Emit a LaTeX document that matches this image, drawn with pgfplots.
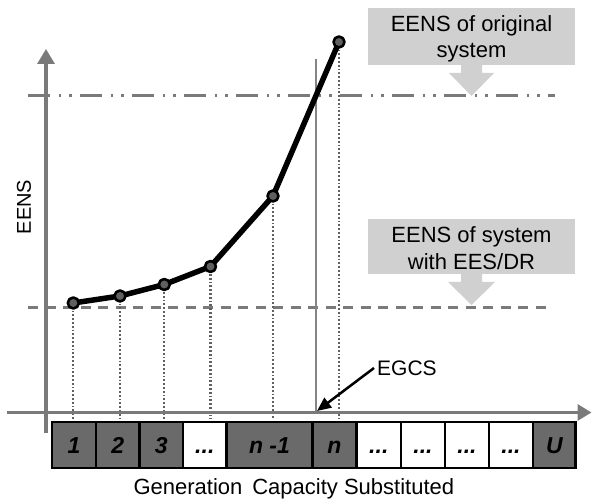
\documentclass[border=0pt]{standalone}
\usepackage{pgfplots}
\pgfplotsset{compat=1.18}
\usepackage{fontspec}
\setmainfont{Liberation Sans}
\usetikzlibrary{arrows.meta}
\definecolor{axgray}{HTML}{7A7A7A}
\definecolor{cellgray}{HTML}{6A6A6A}
\definecolor{boxgray}{HTML}{D0D0D0}
\definecolor{dotgray}{HTML}{606060}
\definecolor{vgray}{HTML}{858585}
\begin{document}
\begin{tikzpicture}
\useasboundingbox (0,0) rectangle (592pt,502pt);
\begin{axis}[scale only axis, width=592pt, height=502pt,
  xmin=0, xmax=592, ymin=0, ymax=502, hide axis, clip=false]
% callout boxes
\fill[boxgray] (368,437) rectangle (575,494);
\fill[boxgray] (461,437.5) -- (461,429) -- (449,429) -- (471.5,406) -- (494,429) -- (482,429) -- (482,437.5) -- cycle;
\fill[boxgray] (368,228) rectangle (575,283);
\fill[boxgray] (461,228.5) -- (461,220) -- (448,220) -- (471.5,197) -- (495,220) -- (482,220) -- (482,228.5) -- cycle;
\node[anchor=base, font=\fontsize{22}{26}\selectfont] at (471.5,470.3) {EENS of original};
\node[anchor=base, font=\fontsize{22}{26}\selectfont] at (471.5,444) {system};
\node[anchor=base, font=\fontsize{22}{26}\selectfont] at (471.5,259) {EENS of system};
\node[anchor=base, font=\fontsize{22}{26}\selectfont] at (471.5,232) {with EES/DR};
% reference lines
\addplot[axgray, line width=3pt, line cap=butt,
  dash pattern=on 22pt off 8.5pt on 2.8pt off 7.7pt on 2.8pt off 8.2pt]
  coordinates {(28,406) (555,406)};
\addplot[axgray, line width=3pt, line cap=butt, dash pattern=on 10pt off 7.5pt]
  coordinates {(28,194) (552,194)};
% EGCS vertical line
\addplot[vgray, line width=2.4pt] coordinates {(316,89.5) (316,443)};
% dotted drop lines
\addplot[dotgray, line width=2.2pt, dash pattern=on 1.8pt off 2pt] coordinates {(73.3,199) (73.3,83)};
\addplot[dotgray, line width=2.2pt, dash pattern=on 1.8pt off 2pt] coordinates {(120,206) (120,83)};
\addplot[dotgray, line width=2.2pt, dash pattern=on 1.8pt off 2pt] coordinates {(164.3,217.5) (164.3,83)};
\addplot[dotgray, line width=2.2pt, dash pattern=on 1.8pt off 2pt] coordinates {(210.5,235.5) (210.5,83)};
\addplot[dotgray, line width=2.2pt, dash pattern=on 1.8pt off 2pt] coordinates {(273,306) (273,83)};
\addplot[dotgray, line width=2.2pt, dash pattern=on 1.8pt off 2pt] coordinates {(339,460) (339,83)};
% axes
\draw[axgray, line width=3.2pt, -{Triangle[length=15pt,width=17pt]}] (46,69) -- (46,453);
\draw[axgray, line width=3.2pt, -{Triangle[length=14pt,width=16pt]}] (7,89.5) -- (591.5,89.5);
% EENS curve
\addplot[black, line width=5.5pt, line join=round, mark=*, mark size=5.5pt,
  mark options={fill=dotgray, draw=black, line width=2.6pt}]
  coordinates {(73.3,199) (120,206) (164.3,217.5) (210.5,235.5) (273,306) (339,460)};
% axis titles
\node[rotate=90, font=\fontsize{20}{24}\selectfont] at (24,295) {EENS};
\node[anchor=base west, font=\fontsize{22}{26}\selectfont] at (130,7) {Generation\hspace{10pt}Capacity Substituted};
% EGCS annotation
\draw[black, line width=2.5pt, -{Triangle[length=14pt,width=12pt]}] (374,134) -- (317,91);
\node[anchor=west, font=\fontsize{21}{25}\selectfont, inner sep=0pt] at (377,134) {EGCS};
% capacity cells
\begin{scope}[line width=2.2pt, draw=black]
\filldraw[fill=cellgray] (52,34.3) rectangle (96,80.3);
\filldraw[fill=cellgray] (96,34.3) rectangle (139.5,80.3);
\filldraw[fill=cellgray] (139.5,34.3) rectangle (183,80.3);
\filldraw[fill=white] (183,34.3) rectangle (226.5,80.3);
\filldraw[fill=cellgray] (226.5,34.3) rectangle (312.5,80.3);
\filldraw[fill=cellgray] (312.5,34.3) rectangle (356.5,80.3);
\filldraw[fill=white] (356.5,34.3) rectangle (401,80.3);
\filldraw[fill=white] (401,34.3) rectangle (445,80.3);
\filldraw[fill=white] (445,34.3) rectangle (489,80.3);
\filldraw[fill=white] (489,34.3) rectangle (533,80.3);
\filldraw[fill=cellgray] (533,34.3) rectangle (575.5,80.3);
\end{scope}
\begin{scope}[every node/.style={anchor=base, font=\fontsize{23}{27}\selectfont\bfseries\itshape}]
\node at (74,48.5) {1};
\node at (117.8,48.5) {2};
\node at (161.3,48.5) {3};
\node at (204.8,48.5) {...};
\node at (269.5,48.5) {n -1};
\node at (334.5,48.5) {n};
\node at (378.8,48.5) {...};
\node at (423,48.5) {...};
\node at (467,48.5) {...};
\node at (511,48.5) {...};
\node at (554.3,48.5) {U};
\end{scope}
\end{axis}
\end{tikzpicture}
\end{document}
